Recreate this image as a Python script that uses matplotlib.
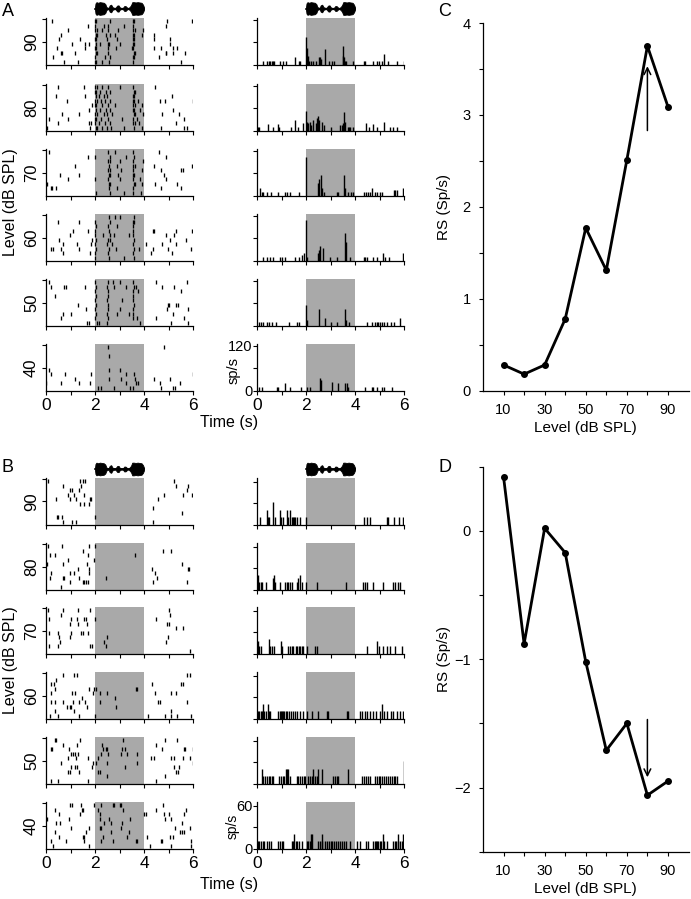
import matplotlib
matplotlib.use("Agg")
import matplotlib.pyplot as plt

plt.rcParams['font.family'] = ['Liberation Sans', 'DejaVu Sans']

W, H = 691, 899
GRAY = '#a9a9a9'

levels = [90, 80, 70, 60, 50, 40]

# ---------------- stimulus envelope (drawn above top panels) ----------------
stim_t = [2.0, 2.02, 2.06, 2.12, 2.2, 2.28, 2.36, 2.42, 2.46, 2.5, 2.56, 2.6, 2.66, 2.72, 2.78, 2.84,
          2.9, 2.96, 3.02, 3.08, 3.14, 3.2, 3.26, 3.32, 3.38, 3.44, 3.48, 3.52, 3.58, 3.66, 3.74,
          3.82, 3.9, 3.96, 4.0]
stim_env = [0.2, 0.8, 1.0, 0.9, 1.0, 0.95, 0.9, 0.7, 0.3, 0.12, 0.15, 0.5, 0.6, 0.2, 0.12, 0.12,
            0.45, 0.5, 0.15, 0.1, 0.12, 0.4, 0.35, 0.1, 0.12, 0.35, 0.6, 1.0, 1.0, 0.95, 1.0,
            0.95, 0.9, 0.6, 0.2]

# ---------------- Panel A rasters (trials listed top to bottom, spike times in s) ----------------
A90_raster = [
    [0.26, 2.01, 2.06, 2.6, 3.55, 3.6, 4.92, 5.97],
    [1.73, 2.02, 2.35, 2.55, 3.2, 3.57, 4.9],
    [0.9, 2.02, 2.07, 2.3, 2.55, 2.95, 3.55, 3.62, 3.95],
    [0.6, 2.03, 2.1, 2.45, 2.62, 2.8, 3.57, 3.6, 3.93, 4.4],
    [0.53, 1.4, 2.02, 2.06, 2.5, 2.9, 3.55, 3.6, 4.4, 5.05],
    [1.07, 1.59, 1.77, 2.03, 2.2, 2.55, 2.58, 3.0, 3.55, 3.58, 5.08],
    [0.44, 1.6, 2.02, 2.05, 2.52, 2.85, 3.52, 3.57, 4.4, 4.68, 5.19, 5.33],
    [0.62, 0.66, 1.19, 2.03, 2.08, 2.55, 3.58, 3.63, 4.88, 4.91, 5.2, 5.67],
    [0.3, 2.02, 2.4, 2.62, 3.56, 3.6, 4.6],
    [0.75, 1.3, 2.01, 2.05, 2.3, 2.58, 3.55, 5.5],
]
A80_raster = [
    [0.47, 1.56, 2.02, 2.1, 2.3, 2.55, 3.0, 3.55, 4.44],
    [2.01, 2.05, 2.2, 2.45, 2.6, 3.58, 3.62],
    [0.4, 1.59, 2.03, 2.15, 2.35, 2.5, 3.55, 3.6, 5.16],
    [0.86, 2.02, 2.1, 2.25, 2.4, 2.62, 3.56, 3.6, 3.75, 4.67, 4.86, 6.0],
    [1.86, 2.02, 2.06, 2.3, 2.55, 2.8, 3.57, 3.63, 3.9],
    [1.77, 2.03, 2.2, 2.45, 2.6, 3.55, 3.6, 3.85, 5.19],
    [0.64, 1.36, 2.02, 2.1, 2.35, 2.5, 2.7, 3.58, 3.62, 3.95, 4.74, 5.42],
    [0.12, 0.88, 2.01, 2.05, 2.25, 2.55, 3.1, 3.55, 3.7, 5.63],
    [0.47, 1.77, 1.82, 2.02, 2.15, 2.4, 2.6, 3.56, 3.62, 3.8, 5.3],
    [0.05, 1.8, 2.03, 2.1, 2.3, 2.5, 2.65, 3.2, 3.58, 3.9, 4.71, 5.64, 5.74],
]
A70_raster = [
    [0.12, 2.55, 2.8, 3.55, 4.62],
    [1.7, 2.02, 2.6, 3.27, 3.58, 4.88],
    [2.55, 2.62, 3.0, 3.55, 3.95],
    [1.19, 2.58, 2.9, 3.57, 3.62, 4.4, 5.95],
    [2.55, 2.6, 3.05, 3.55, 3.9, 4.7, 5.53, 5.58],
    [0.58, 1.33, 2.57, 2.62, 2.95, 3.56, 3.6, 4.81],
    [0.88, 2.02, 2.55, 3.0, 3.55, 3.85, 4.9],
    [0.05, 2.58, 2.62, 3.58, 3.62, 3.92, 4.44, 5.33],
    [0.19, 0.26, 0.4, 2.56, 2.9, 3.55, 4.71, 5.53],
    [2.03, 2.6, 3.2, 3.57, 3.88],
]
A60_raster = [
    [2.56, 2.8, 3.04, 3.58],
    [0.49, 1.36, 2.02, 2.6, 3.55, 3.6],
    [2.03, 2.55, 2.9, 3.57],
    [1.1, 1.7, 2.02, 2.58, 3.56, 4.37, 4.42, 5.3, 5.95],
    [0.97, 2.02, 2.32, 2.6, 2.77, 3.38, 3.57, 4.88, 5.22],
    [0.53, 1.88, 2.03, 2.55, 2.62, 3.58, 5.05, 5.71],
    [0.71, 1.25, 1.85, 2.02, 2.5, 2.7, 3.56, 4.1, 4.74, 5.29],
    [0.19, 0.3, 0.63, 1.36, 2.03, 2.58, 2.86, 3.6, 3.79, 4.37, 4.96, 5.92],
    [0.71, 1.79, 2.02, 2.55, 3.57, 4.3, 5.15],
    [2.02, 2.57, 3.2, 3.58],
]
A50_raster = [
    [0.12, 2.02, 2.52, 2.75, 3.04, 3.55, 4.5, 5.74],
    [0.19, 0.75, 0.8, 1.59, 2.03, 2.5, 2.77, 3.25, 3.58, 3.68, 4.75, 5.22],
    [2.02, 2.55, 3.57, 3.75, 5.5],
    [0.37, 2.03, 2.52, 3.56],
    [2.02, 2.5, 3.1, 3.55],
    [1.32, 2.03, 2.55, 3.58, 4.96, 5.01, 5.29, 5.37],
    [1.63, 2.02, 2.52, 3.03, 3.56, 4.95, 5.81],
    [0.71, 1.01, 2.03, 2.5, 2.9, 3.38, 3.55, 5.19],
    [0.6, 2.02, 2.55, 3.57, 3.7, 4.48, 5.63],
    [1.66, 1.77, 2.1, 2.15, 2.5, 3.82, 5.1, 5.78],
]
A40_raster = [
    [2.52, 4.81],
    [],
    [2.59],
    [],
    [],
    [0.12, 2.56, 3.03],
    [0.19, 0.77, 1.84, 3.27, 3.59, 6.0],
    [1.19, 2.56, 3.07, 3.62, 4.4, 5.05],
    [0.01, 0.62, 1.36, 1.79, 3.27, 3.68, 3.75, 4.64, 5.47],
    [2.11, 2.25, 2.79, 3.41, 3.55, 4.71, 5.19, 5.26],
]

# ---------------- Panel A PSTHs: (bin time s, rate sp/s) ----------------
A90_psth = [(0.26, 10), (0.39, 10), (0.47, 10), (0.52, 10), (0.6, 10), (0.64, 10), (0.69, 10), (0.94, 10),
            (1.07, 10), (1.18, 10), (1.55, 20), (1.71, 10), (1.76, 10), (2.01, 75), (2.04, 45), (2.07, 25),
            (2.12, 10), (2.2, 10), (2.28, 10), (2.4, 10), (2.52, 20), (2.56, 20), (2.6, 15), (2.78, 42),
            (2.95, 10), (3.05, 10), (3.15, 10), (3.5, 50), (3.53, 25), (3.56, 20), (3.6, 10), (3.65, 10),
            (3.92, 10), (4.38, 10), (4.42, 10), (4.72, 10), (4.88, 10), (4.99, 10), (5.09, 10), (5.2, 30),
            (5.36, 10), (5.7, 10), (6.0, 10)]
A80_psth = [(0.05, 10), (0.1, 10), (0.44, 18), (0.64, 10), (0.84, 18), (0.9, 10), (1.37, 10), (1.55, 30),
            (1.69, 10), (1.86, 20), (2.02, 53), (2.05, 25), (2.1, 20), (2.15, 25), (2.2, 15), (2.3, 30),
            (2.4, 20), (2.45, 35), (2.5, 40), (2.55, 30), (2.64, 25), (2.75, 15), (3.0, 10), (3.4, 15),
            (3.45, 15), (3.5, 20), (3.55, 50), (3.6, 25), (3.7, 10), (3.75, 10), (3.8, 10), (3.9, 10),
            (4.45, 20), (4.58, 10), (4.75, 18), (4.88, 10), (5.2, 25), (5.42, 10), (5.55, 10), (5.7, 10)]
A70_psth = [(0.12, 20), (0.19, 10), (0.26, 10), (0.39, 10), (0.56, 10), (0.87, 10), (1.14, 10), (1.21, 10),
            (1.35, 10), (1.71, 10), (2.01, 105), (2.5, 35), (2.55, 45), (2.6, 55), (2.65, 20), (2.72, 10),
            (3.25, 10), (3.32, 10), (3.55, 55), (3.6, 20), (3.7, 10), (3.85, 10), (3.92, 10), (4.38, 10),
            (4.45, 10), (4.52, 10), (4.6, 10), (4.68, 20), (4.82, 10), (4.9, 10), (5.02, 10), (5.12, 10),
            (5.6, 15), (5.65, 15), (5.7, 15), (5.97, 20)]
A60_psth = [(0.26, 10), (0.42, 10), (0.53, 10), (0.67, 10), (0.94, 10), (1.03, 10), (1.14, 10), (1.55, 10),
            (1.73, 10), (1.82, 15), (1.92, 20), (2.01, 110), (2.06, 10), (2.5, 20), (2.55, 30), (2.58, 40),
            (2.71, 35), (2.98, 10), (3.25, 10), (3.58, 75), (3.62, 50), (3.8, 10), (4.35, 10), (4.4, 10),
            (4.48, 10), (4.75, 10), (4.88, 10), (5.13, 20), (5.22, 10), (5.4, 10), (5.97, 20)]
A50_psth = [(0.1, 10), (0.18, 10), (0.26, 10), (0.42, 10), (0.5, 10), (0.6, 10), (0.78, 10), (1.32, 10),
            (1.62, 10), (1.73, 10), (2.01, 55), (2.05, 15), (2.55, 45), (2.78, 20), (3.0, 10), (3.25, 10),
            (3.58, 45), (3.63, 15), (3.75, 10), (4.5, 10), (4.68, 10), (4.8, 10), (4.88, 10), (4.95, 10),
            (5.02, 10), (5.1, 10), (5.2, 10), (5.3, 10), (5.45, 10), (5.6, 10), (5.84, 20)]
A40_psth = [(0.1, 10), (0.19, 10), (0.8, 10), (0.87, 10), (1.14, 20), (1.35, 10), (1.78, 10), (2.05, 10),
            (2.18, 10), (2.57, 35), (2.6, 30), (3.05, 25), (3.32, 20), (3.6, 20), (3.66, 20), (3.72, 10),
            (4.41, 10), (4.68, 10), (4.75, 10), (4.88, 10), (5.09, 10), (5.2, 10), (5.5, 10)]

# ---------------- Panel B rasters ----------------
B90_raster = [
    [0.08, 1.39, 1.5, 1.61, 5.24],
    [0.69, 1.43, 5.32, 5.8],
    [0.99, 1.07, 1.36, 5.76],
    [0.89, 1.16, 1.54, 4.81, 5.59, 5.96],
    [0.42, 0.96, 1.23, 1.81, 1.84, 4.58],
    [1.39, 1.57, 1.77],
    [4.38],
    [5.57],
    [0.45, 0.51, 0.66, 2.0],
    [0.69, 1.05, 1.23, 4.38],
]
B80_raster = [
    [0.08, 0.65, 1.77, 2.01],
    [1.5, 4.77, 5.12],
    [0.15, 0.35, 1.73, 3.62],
    [0.89, 1.95],
    [0.03, 0.69, 1.68, 5.55],
    [1.3, 1.74, 4.34, 5.78, 5.82],
    [0.22, 0.96, 1.14, 1.77, 4.43],
    [0.15, 0.69, 0.75, 1.36, 2.45, 4.54],
    [0.96, 1.5, 1.57, 1.64, 1.7, 4.38, 5.76],
    [0.62],
]
B70_raster = [
    [0.08, 0.69, 1.32, 1.81, 5.01],
    [0.62, 5.08],
    [0.12, 1.0, 1.26, 1.57, 1.62, 2.01, 4.49],
    [0.96, 1.32, 1.68, 4.95, 5.02],
    [5.31, 5.59],
    [0.12, 0.51, 1.03, 1.43, 1.5, 1.7],
    [0.55, 0.96, 2.49, 4.97],
    [0.59, 2.35, 4.91],
    [0.12, 0.51, 1.81, 1.86, 2.46],
    [5.86],
]
B60_raster = [
    [0.69, 1.14, 1.27, 5.76, 5.89],
    [0.42],
    [0.22, 0.31, 4.34, 5.49, 5.59],
    [0.35, 1.77, 1.97, 2.04, 3.66, 3.73],
    [0.22, 1.07, 1.19, 1.91, 2.2, 2.49, 4.43, 5.11, 5.31],
    [1.47, 2.82],
    [0.19, 0.35, 0.69, 1.09, 1.34, 1.61, 2.22, 4.57, 4.64, 5.76],
    [0.86, 0.96, 1.0, 1.68, 2.85],
    [0.38, 1.16, 5.11],
    [0.15, 0.51, 1.34, 2.01, 4.18, 4.85, 5.12, 5.35, 5.93],
]
B50_raster = [
    [0.38, 0.42, 1.39, 3.16, 4.85, 5.35],
    [0.69, 1.27, 2.28, 4.47],
    [0.19, 0.26, 0.93, 2.33, 2.45, 2.51, 3.12, 3.23, 4.74, 5.65, 5.69, 6.0],
    [1.03, 1.09, 1.19, 1.32, 2.24, 2.54, 3.05, 3.3, 3.73],
    [0.89, 1.23, 1.7, 2.11, 4.3, 4.41, 5.11, 5.22, 5.59, 5.89],
    [0.62, 1.91, 2.04, 2.51, 3.7, 6.0],
    [1.04, 1.19, 1.27, 1.86, 3.22, 5.22, 5.42],
    [0.89, 0.96, 1.36, 2.11, 2.2, 5.31, 5.38],
    [2.49, 4.85],
    [0.19, 0.49, 1.7, 4.47],
]
B40_raster = [
    [0.96, 1.05, 1.43, 1.95, 2.24, 2.72, 2.78, 3.03, 3.08, 4.77],
    [0.38, 1.47, 1.5, 2.11, 3.16, 4.47, 5.73],
    [0.55, 1.39, 2.2, 4.0, 4.1, 4.81, 5.0, 5.65],
    [0.05, 0.92, 2.22, 2.58, 3.43, 4.86, 5.11],
    [0.39, 0.59, 2.35, 2.65, 3.12, 5.55],
    [1.03, 1.77, 2.2, 2.24, 3.05, 5.28, 5.86],
    [0.35, 1.64, 2.65, 3.39, 5.48, 5.55, 5.62],
    [0.55, 1.5, 1.57, 2.31, 3.3, 4.14, 5.08, 5.19],
    [0.22, 0.82, 1.54, 2.24, 2.72, 3.66, 3.73, 4.7, 4.75, 5.93],
    [0.28, 1.77, 4.24, 5.11, 5.93],
]

# ---------------- Panel B PSTHs ----------------
B90_psth = [(0.12, 11), (0.39, 21), (0.43, 11), (0.5, 11), (0.67, 32), (0.72, 11), (0.94, 21), (0.99, 11),
            (1.07, 11), (1.21, 21), (1.28, 11), (1.35, 21), (1.41, 11), (1.48, 11), (1.52, 11), (1.57, 11),
            (1.62, 11), (1.75, 11), (2.0, 11), (4.38, 11), (4.5, 11), (4.6, 11), (5.29, 11), (5.36, 11),
            (5.6, 11), (5.81, 11), (5.97, 11)]
B80_psth = [(0.03, 21), (0.08, 11), (0.15, 11), (0.2, 11), (0.35, 11), (0.64, 16), (0.69, 21), (0.74, 11),
            (0.94, 11), (1.14, 11), (1.21, 11), (1.28, 11), (1.35, 11), (1.41, 11), (1.62, 11), (1.69, 16),
            (1.76, 21), (1.82, 11), (2.0, 11), (2.46, 11), (3.63, 11), (4.34, 11), (4.41, 11), (4.48, 11),
            (4.75, 11), (5.16, 11), (5.56, 11), (5.63, 11), (5.77, 11), (5.84, 11)]
B70_psth = [(0.05, 18), (0.1, 11), (0.16, 11), (0.5, 21), (0.55, 11), (0.63, 11), (0.7, 11), (0.97, 18),
            (1.02, 11), (1.28, 11), (1.35, 11), (1.41, 11), (1.48, 11), (1.59, 11), (1.65, 11), (1.7, 11),
            (1.76, 11), (1.82, 11), (1.86, 11), (2.03, 11), (2.37, 11), (2.46, 11), (4.5, 11), (4.91, 18),
            (4.99, 11), (5.13, 11), (5.29, 11), (5.42, 11), (5.63, 11), (5.9, 11)]
B60_psth = [(0.05, 11), (0.1, 11), (0.15, 11), (0.2, 11), (0.26, 21), (0.3, 11), (0.35, 11), (0.44, 21),
            (0.48, 11), (0.53, 11), (0.87, 11), (0.92, 11), (0.97, 11), (1.02, 11), (1.07, 11), (1.12, 11),
            (1.17, 11), (1.22, 11), (1.3, 11), (1.38, 11), (1.45, 11), (1.55, 11), (1.62, 11), (1.75, 11),
            (1.88, 11), (2.03, 11), (2.23, 11), (2.5, 11), (2.84, 11), (2.88, 11), (3.66, 11), (3.72, 11),
            (4.2, 11), (4.3, 11), (4.4, 11), (4.5, 11), (4.62, 11), (4.75, 11), (4.85, 11), (5.02, 11),
            (5.09, 21), (5.18, 11), (5.3, 11), (5.45, 11), (5.55, 11), (5.7, 11), (5.85, 11), (5.97, 11)]
B50_psth = [(0.19, 21), (0.26, 11), (0.33, 11), (0.4, 11), (0.48, 11), (0.55, 11), (0.62, 11), (0.67, 11),
            (0.91, 11), (0.97, 11), (1.05, 11), (1.12, 11), (1.18, 21), (1.22, 21), (1.28, 21), (1.35, 11),
            (1.62, 11), (1.68, 11), (1.75, 11), (1.82, 11), (1.9, 11), (1.96, 11), (2.1, 11), (2.17, 11),
            (2.24, 11), (2.3, 21), (2.38, 11), (2.44, 11), (2.5, 21), (2.64, 21), (3.12, 11), (3.18, 11),
            (3.25, 11), (3.32, 11), (3.73, 21), (4.27, 11), (4.35, 11), (4.45, 11), (4.52, 11), (4.61, 11),
            (4.82, 11), (4.9, 11), (4.97, 11), (5.03, 11), (5.09, 11), (5.2, 11), (5.27, 11), (5.35, 11),
            (5.42, 11), (5.5, 11), (5.58, 11), (5.65, 11), (5.72, 11), (6.01, 32)]
B40_psth = [(0.05, 11), (0.1, 11), (0.16, 11), (0.23, 11), (0.3, 11), (0.4, 11), (0.5, 11), (0.57, 11),
            (0.87, 11), (0.93, 11), (1.0, 11), (1.07, 11), (1.41, 11), (1.47, 11), (1.52, 21), (1.58, 11),
            (1.65, 11), (1.72, 11), (1.82, 11), (2.03, 11), (2.1, 11), (2.16, 11), (2.2, 21), (2.25, 21),
            (2.5, 11), (2.57, 11), (2.64, 11), (2.67, 21), (2.78, 11), (2.85, 11), (2.92, 11), (3.0, 11),
            (3.08, 11), (3.15, 11), (3.22, 11), (3.3, 11), (3.38, 11), (3.45, 11), (3.55, 11), (3.65, 11),
            (3.8, 11), (4.07, 11), (4.2, 11), (4.45, 11), (4.52, 11), (4.75, 11), (4.8, 11), (4.85, 11),
            (4.9, 11), (4.95, 11), (5.02, 11), (5.08, 11), (5.13, 21), (5.2, 11), (5.29, 11), (5.56, 11),
            (5.62, 11), (5.68, 11), (5.74, 11), (5.77, 21), (5.85, 11), (5.92, 11), (5.97, 21)]

# ---------------- Panels C and D ----------------
rs_levels = [10, 20, 30, 40, 50, 60, 70, 80, 90]
rs_C = [0.28, 0.18, 0.28, 0.78, 1.77, 1.31, 2.51, 3.75, 3.09]
rs_D = [0.42, -0.88, 0.02, -0.17, -1.02, -1.71, -1.50, -2.06, -1.95]

A_rasters = [A90_raster, A80_raster, A70_raster, A60_raster, A50_raster, A40_raster]
A_psths = [A90_psth, A80_psth, A70_psth, A60_psth, A50_psth, A40_psth]
B_rasters = [B90_raster, B80_raster, B70_raster, B60_raster, B50_raster, B40_raster]
B_psths = [B90_psth, B80_psth, B70_psth, B60_psth, B50_psth, B40_psth]

fig = plt.figure(figsize=(W / 100, H / 100), dpi=100)


def rect(x0, x1, ytop, ybot):
    return [x0 / W, 1 - ybot / H, (x1 - x0) / W, (ybot - ytop) / H]


def style(ax):
    for s in ['top', 'right']:
        ax.spines[s].set_visible(False)
    for s in ['left', 'bottom']:
        ax.spines[s].set_linewidth(0.9)
    ax.tick_params(direction='out', length=3, width=0.8, pad=2)


RX0, RX1 = 46, 193.5
PX0, PX1 = 257, 404.5
XMAX = 6.02


def draw_block(tops, rasters, psths, ymax, yt, ylabels_bottom, stim_top):
    for i, (lvl, rast, ps) in enumerate(zip(levels, rasters, psths)):
        top = tops[i]
        bot = top + 47
        last = (i == len(levels) - 1)
        # raster
        ax = fig.add_axes(rect(RX0, RX1, top, bot))
        ax.axvspan(2, 4, color=GRAY, lw=0, zorder=0)
        n = len(rast)
        for j, trial in enumerate(rast):
            y = n - j
            if trial:
                ax.vlines(trial, y - 0.45, y + 0.45, color='k', lw=0.95, zorder=2)
        ax.set_xlim(0, XMAX)
        ax.set_ylim(0.3, n + 0.7)
        style(ax)
        ax.set_xticks(range(7))
        ax.set_yticks([n / 2 + 0.5])
        ax.set_yticks([n + 0.5], minor=True)
        ax.tick_params(axis='y', which='minor', direction='out', length=3, width=0.8)
        ax.set_yticklabels([str(lvl)], rotation=90, va='center', fontsize=12)
        if last:
            ax.set_xticklabels(['0', '', '2', '', '4', '', '6'], fontsize=12.5)
        else:
            ax.set_xticklabels([])
        # psth
        ax2 = fig.add_axes(rect(PX0, PX1, top, bot))
        ax2.axvspan(2, 4, color=GRAY, lw=0, zorder=0)
        t = [p[0] for p in ps]
        r = [p[1] for p in ps]
        ax2.vlines(t, 0, r, color='k', lw=1.0, zorder=2)
        ax2.set_xlim(0, XMAX)
        ax2.set_ylim(0, ymax)
        style(ax2)
        ax2.set_xticks(range(7))
        ax2.set_yticks(yt)
        if last:
            ax2.set_xticklabels(['0', '', '2', '', '4', '', '6'], fontsize=12.5)
            ax2.set_yticklabels(ylabels_bottom, fontsize=10.5)
            ax2.tick_params(axis='y', pad=0.5)
        else:
            ax2.set_xticklabels([])
            ax2.set_yticklabels([])
    # stimulus envelopes
    for x0, x1 in [(RX0, RX1), (PX0, PX1)]:
        axs = fig.add_axes(rect(x0, x1, stim_top, stim_top + 14))
        axs.fill_between(stim_t, [-e for e in stim_env], stim_env, color='k', lw=0.6)
        axs.plot([stim_t[0], stim_t[-1]], [0, 0], color='k', lw=1.2)
        axs.set_xlim(0, XMAX)
        axs.set_ylim(-1.1, 1.1)
        axs.axis('off')


A_tops = [18, 84, 149, 214, 279, 344]
B_tops = [478, 543, 607, 672, 737, 802]
draw_block(A_tops, A_rasters, A_psths, 125, [0, 60, 120], ['0', '', '120'], 1.5)
draw_block(B_tops, B_rasters, B_psths, 65, [0, 30, 60], ['0', '', '60'], 462)

# figure texts
fig.text(8 / W, 1 - 11 / H, 'A', fontsize=13, ha='center', va='center')
fig.text(8 / W, 1 - 468 / H, 'B', fontsize=13, ha='center', va='center')
fig.text(445 / W, 1 - 11 / H, 'C', fontsize=13, ha='center', va='center')
fig.text(445 / W, 1 - 467 / H, 'D', fontsize=13, ha='center', va='center')
fig.text(11 / W, 1 - 202 / H, 'Level (dB SPL)', fontsize=11.5, rotation=90, ha='center', va='center')
fig.text(11 / W, 1 - 660 / H, 'Level (dB SPL)', fontsize=11.5, rotation=90, ha='center', va='center')
fig.text(229 / W, 1 - 423 / H, 'Time (s)', fontsize=11.5, ha='center', va='center')
fig.text(229 / W, 1 - 884 / H, 'Time (s)', fontsize=11.5, ha='center', va='center')
fig.text(234 / W, 1 - 370 / H, 'sp/s', fontsize=10.5, rotation=90, ha='center', va='center')
fig.text(233 / W, 1 - 826 / H, 'sp/s', fontsize=10, rotation=90, ha='center', va='center')


def rs_panel(top, bot, vals, ylim, yticks, ylabels, arrow_from, arrow_to):
    ax = fig.add_axes(rect(483, 688.5, top, bot))
    ax.plot(rs_levels, vals, color='k', lw=2, marker='o', ms=4, clip_on=False)
    ax.set_xlim(0, 100)
    ax.set_ylim(*ylim)
    style(ax)
    ax.set_xticks(rs_levels)
    ax.set_xticklabels(['10', '', '30', '', '50', '', '70', '', '90'], fontsize=10.5)
    ax.set_yticks(yticks)
    ax.set_yticklabels(ylabels, fontsize=10.5)
    ax.tick_params(axis='x', pad=6)
    ax.tick_params(axis='y', pad=6)
    ax.set_xlabel('Level (dB SPL)', fontsize=11, labelpad=3)
    ax.annotate('', xy=(80, arrow_to), xytext=(80, arrow_from),
                arrowprops=dict(arrowstyle='->', lw=1.1, color='k', mutation_scale=12, shrinkA=0, shrinkB=0))
    return ax


axC = rs_panel(23, 390.7, rs_C, (0, 4), [0, 0.5, 1, 1.5, 2, 2.5, 3, 3.5, 4],
               ['0', '', '1', '', '2', '', '3', '', '4'], 2.83, 3.53)
axD = rs_panel(466.7, 851.7, rs_D, (-2.5, 0.5), [-2.5, -2, -1.5, -1, -0.5, 0, 0.5],
               ['', '\u22122', '', '\u22121', '', '0', ''], -1.47, -1.92)
fig.text(444 / W, 1 - 207 / H, 'RS (Sp/s)', fontsize=11, rotation=90, ha='center', va='center')
fig.text(444 / W, 1 - 659 / H, 'RS (Sp/s)', fontsize=11, rotation=90, ha='center', va='center')

fig.savefig('out.png', dpi=100)
